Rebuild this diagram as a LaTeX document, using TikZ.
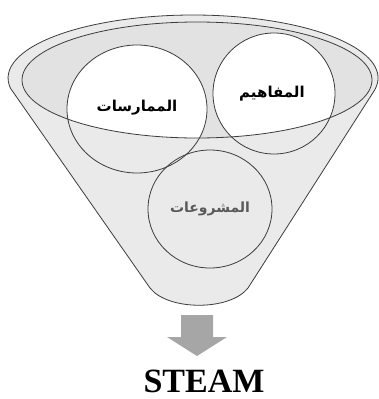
\documentclass[tikz,border=0pt]{standalone}
\usepackage{fontspec}
\setmainfont{Liberation Serif}
\newfontfamily\arabicfont[Script=Arabic]{DejaVu Sans}
\TeXXeTstate=1
\definecolor{funnelfill}{RGB}{234,234,234}
\definecolor{ellfill}{RGB}{226,226,226}
\definecolor{lineclr}{RGB}{60,60,60}
\definecolor{arrowclr}{RGB}{166,166,166}
\definecolor{projtext}{RGB}{90,90,90}
\tikzset{
  outl/.style={draw=lineclr, line width=0.8pt},
  arlabel/.style={font=\arabicfont\bfseries\fontsize{15}{17}\selectfont, inner sep=0pt},
}
\begin{document}
\begin{tikzpicture}[x=1pt,y=1pt]
\useasboundingbox (0,0) rectangle (379,-399);
% funnel body
\draw[outl, fill=funnelfill]
  (10.3,-88) -- (150,-288) .. controls (168,-311) and (230,-311) .. (248,-288)
  -- (373.4,-92) arc[start angle=-12.84, end angle=189.13, x radius=185, y radius=63] -- cycle;
% inner ellipse
\fill[ellfill] (197,-80) ellipse[x radius=175, y radius=58];
% white parts of circles inside ellipse
\begin{scope}
  \clip (197,-80) ellipse[x radius=175, y radius=58];
  \fill[white] (137,-109) ellipse[x radius=70, y radius=64];
  \fill[white] (274,-93.5) ellipse[x radius=61, y radius=60.5];
\end{scope}
\draw[outl] (197,-80) ellipse[x radius=175, y radius=58];
\draw[outl] (137,-109) ellipse[x radius=70, y radius=64];
\draw[outl] (274,-93.5) ellipse[x radius=61, y radius=60.5];
\draw[outl] (210,-209) ellipse[x radius=62, y radius=59];
% labels
\node[arlabel] (practices) at (137,-108) {\beginR الممارسات\endR};
\node[arlabel] (concepts) at (272,-94) {\beginR المفاهيم\endR};
\node[arlabel, text=projtext, font=\arabicfont\bfseries\fontsize{14}{16}\selectfont] (projects) at (210,-209) {\beginR المشروعات\endR};
% arrow
\fill[arrowclr] (181,-315) -- (213,-315) -- (213,-337) -- (227,-337) -- (197,-356)
  -- (167,-337) -- (181,-337) -- cycle;
\node[font=\bfseries\fontsize{34}{36}\selectfont, inner sep=0pt] (steam) at (204,-381) {STEAM};
\end{tikzpicture}
\end{document}
